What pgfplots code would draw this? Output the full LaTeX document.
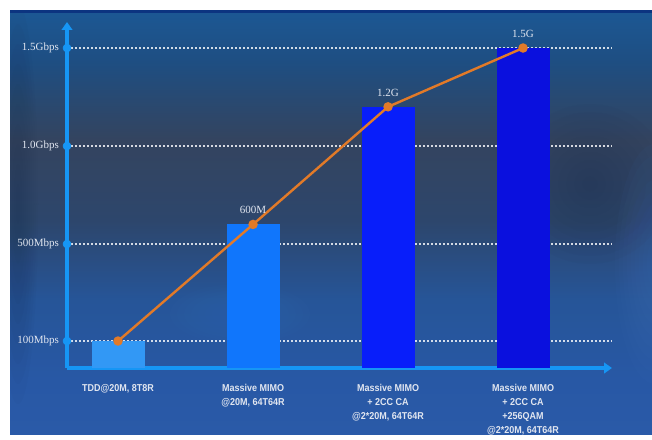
\documentclass[border=0pt]{standalone}
\usepackage{fontspec}
\usepackage{pgfplots}
\pgfplotsset{compat=1.18}
\usetikzlibrary{arrows.meta}
\setmainfont{Liberation Serif}
\newfontfamily\catfont[FakeStretch=0.9]{Liberation Sans}

\definecolor{bgA}{RGB}{28,88,148}
\definecolor{bgB}{RGB}{30,78,130}
\definecolor{bgC}{RGB}{52,68,95}
\definecolor{bgD}{RGB}{45,70,108}
\definecolor{bgE}{RGB}{38,85,152}
\definecolor{bgF}{RGB}{40,88,165}
\definecolor{bgG}{RGB}{42,90,168}
\definecolor{shadowblue}{RGB}{28,40,72}
\definecolor{lightblue}{RGB}{70,120,200}
\definecolor{rulenavy}{RGB}{12,52,128}
\definecolor{axisblue}{RGB}{22,150,245}
\definecolor{barA}{RGB}{50,152,245}
\definecolor{barB}{RGB}{16,118,252}
\definecolor{barC}{RGB}{8,30,250}
\definecolor{barD}{RGB}{10,16,222}
\definecolor{trend}{RGB}{226,122,40}
\definecolor{labgray}{RGB}{225,230,240}

% panel backdrop: bbox of the path maps onto 25bp (bottom) .. 75bp (top)
\pgfdeclareverticalshading{backdrop}{100bp}{%
  color(0bp)=(bgG); color(25bp)=(bgG); color(31.4bp)=(bgF); color(40.8bp)=(bgE);
  color(50.2bp)=(bgD); color(59.6bp)=(bgC); color(68.9bp)=(bgB);
  color(75bp)=(bgA); color(100bp)=(bgA)}

\begin{document}
\begin{tikzpicture}
% canvas and backdrop (1 unit = 1px at 0.75pt)
\begin{scope}[x=0.75pt,y=0.75pt]
  \useasboundingbox (0,0) rectangle (652,434);
  \fill[white] (0,0) rectangle (652,434);
  \begin{scope}
    \clip (10,0) rectangle (652,424);
    \shade[shading=backdrop] (10,0) rectangle (652,424);
    % soft patches of light and shadow
    \foreach \k in {1,...,10} {
      \fill[shadowblue, opacity=0.035] (590,250) ellipse ({8*\k} and {8*\k});
      \fill[lightblue, opacity=0.04] (655,170) ellipse ({4*\k} and {12*\k});
      \fill[shadowblue, opacity=0.03] (18,230) ellipse ({2*\k} and {20*\k});
      \fill[lightblue, opacity=0.03] (240,120) ellipse ({7*\k} and {3*\k});
    }
  \end{scope}
  \fill[rulenavy] (10,421.5) rectangle (652,424.5);
\end{scope}

\begin{axis}[
  at={(50.25pt,49.5pt)}, anchor=south west,
  scale only axis, width=408.75pt, height=259.5pt,
  xmin=-0.378, xmax=3.659,
  ymin=-11.3, ymax=1632.7,
  y coord trafo/.code={\pgfmathparse{#1>=500 ? 124+0.196*(#1-500) : 124-0.2425*(500-#1)}},
  axis lines=left,
  axis line style={draw=axisblue, line width=3pt, -{Triangle[length=6pt,width=8pt]}},
  major tick length=0pt,
  xtick={0,1,2,3},
  xticklabels={{TDD@20M, 8T8R},
    {Massive MIMO\\@20M, 64T64R},
    {Massive MIMO\\+ 2CC CA\\@2*20M, 64T64R},
    {Massive MIMO\\+ 2CC CA\\+256QAM\\@2*20M, 64T64R}},
  xticklabel style={align=center, anchor=north, yshift=-8.5pt,
    font=\catfont\bfseries\fontsize{7.5}{10.5}\selectfont, text=labgray},
  ytick={100,500,1000,1500},
  yticklabels={100Mbps,500Mbps,1.0Gbps,1.5Gbps},
  yticklabel style={anchor=east, xshift=-2.5pt,
    font=\fontsize{8.25}{9}\selectfont, text=labgray},
  ymajorgrids,
  grid style={draw=white, draw opacity=0.8, line width=1.1pt, dash pattern=on 1.3pt off 1.7pt},
  clip=false,
]
% throughput per configuration
\addplot[ybar, bar width=39.75pt, bar shift=0pt, fill=barA, draw=none] coordinates {(0,100)};
\addplot[ybar, bar width=39.75pt, bar shift=0pt, fill=barB, draw=none] coordinates {(1,600)};
\addplot[ybar, bar width=39.75pt, bar shift=0pt, fill=barC, draw=none] coordinates {(2,1200)};
\addplot[ybar, bar width=39.75pt, bar shift=0pt, fill=barD, draw=none] coordinates {(3,1500)};
% dots on the axis at each tick
\addplot[only marks, mark=*, mark size=3pt, color=axisblue] coordinates {(-0.378,100) (-0.378,500) (-0.378,1000) (-0.378,1500)};
% trend line with value labels
\addplot[color=trend, line width=1.8pt, mark=*, mark size=2.6pt,
  nodes near coords, point meta=explicit symbolic,
  nodes near coords style={anchor=base, yshift=8pt, text=labgray,
    font=\fontsize{8.25}{9}\selectfont}]
  table[meta=label] {
x y label
0 100 {}
1 600 600M
2 1200 1.2G
3 1500 1.5G
};
\end{axis}
\end{tikzpicture}
\end{document}
